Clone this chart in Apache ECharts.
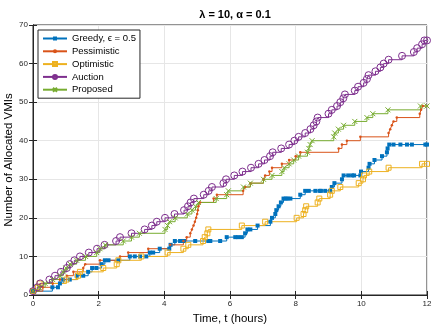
<!DOCTYPE html>
<html><head><meta charset="utf-8">
<script src="https://cdn.jsdelivr.net/npm/echarts@6/dist/echarts.min.js"></script>
<style>html,body{margin:0;padding:0;background:#fff}#c{width:443px;height:332px}</style>
</head><body><div id="c"></div>
<script>
var xTicks = [0, 2, 4, 6, 8, 10, 12];
var yTicks = [0, 10, 20, 30, 40, 50, 60, 70];
var seriesNames = ['Greedy, \u03f5 = 0.5', 'Pessimistic', 'Optimistic', 'Auction', 'Proposed'];

var greedyT = [0,0.59,0.76,0.82,0.92,1.12,1.33,1.53,1.68,1.8,1.93,2.09,2.19,2.3,2.6,2.95,3.1,3.26,3.45,3.56,3.66,3.86,4.15,4.19,4.32,4.48,4.6,4.94,5.34,5.4,5.7,5.9,6.16,6.25,6.36,6.46,6.53,6.62,6.84,7.23,7.28,7.38,7.41,7.48,7.55,7.63,7.7,7.75,7.84,8.14,8.29,8.4,8.6,8.73,8.77,8.9,9.05,9.1,9.18,9.41,9.46,9.6,9.72,9.78,9.97,9.99,10.22,10.25,10.4,10.63,10.78,10.8,10.85,10.98,11.19,11.39,11.54,11.95,12];
var greedyV = [1,2,2,3,4,4,5,5,6,7,7,8,9,9,9,10,10,10,10,11,11,12,12,13,14,14,14,14,14,14,14,15,15,15,15,16,17,17,18,19,20,21,22,23,24,25,25,25,25,26,27,27,27,27,27,27,27,28,29,30,31,31,31,31,31,32,33,34,35,36,37,38,39,39,39,39,39,39,39];

var pessT = [0,0.3,0.6,0.82,1.03,1.23,1.53,1.59,2.04,2.65,2.9,3.51,4.18,4.58,4.68,4.79,4.84,4.89,4.93,4.97,5.0,5.02,5.04,5.09,5.5,5.6,6.4,6.46,6.62,7.02,7.07,7.2,7.28,7.58,7.8,8.0,8.14,9.31,9.41,9.56,9.97,10.83,10.88,10.93,10.98,11.08,11.78,11.82,11.87,12];
var pessV = [1,2,3,4,5,6,7,8,9,10,11,12,13,14,15,16,17,18,19,20,21,22,23,24,25,26,27,28,29,30,31,32,33,34,35,36,37,38,39,40,41,42,43,44,45,46,47,48,49,49];

var optT = [0,0.15,0.2,1.02,1.37,1.43,2.14,2.55,2.6,3.3,4.1,4.58,4.73,5.18,5.23,5.31,5.34,6.36,7.07,8.03,8.24,8.29,8.32,8.67,8.72,9.05,9.1,9.36,9.92,10.05,10.08,10.24,10.83,11.85,12];
var optV = [1,2,3,4,5,6,7,8,9,10,11,12,13,14,15,16,17,18,19,20,21,22,23,24,25,26,27,28,29,30,31,32,33,34,34];

var aucT = [0,0.13,0.22,0.5,0.67,0.85,1.03,1.12,1.26,1.43,1.7,1.95,2.18,2.53,2.65,3.0,3.4,3.62,3.77,4.02,4.31,4.6,4.72,4.8,4.9,5.2,5.35,5.45,5.8,5.88,6.13,6.38,6.64,6.87,7.05,7.22,7.3,7.56,7.8,7.96,8.09,8.29,8.45,8.55,8.63,8.67,9.0,9.1,9.26,9.36,9.45,9.5,9.8,9.9,10.07,10.17,10.22,10.43,10.58,10.68,10.83,11.24,11.6,11.7,11.85,11.92,12];
var aucV = [1,2,3,4,5,6,7,8,9,10,11,12,13,14,15,16,17,18,19,20,21,22,23,24,25,26,27,28,29,30,31,32,33,34,35,36,37,38,39,40,41,42,43,44,45,46,47,48,49,50,51,52,53,54,55,56,57,58,59,60,61,62,63,64,65,66,66];

var propT = [0,0.19,0.37,0.6,0.82,0.92,1.0,1.13,1.33,1.6,1.94,2.04,2.2,2.75,3.0,3.24,4.02,4.1,4.16,4.33,4.7,4.84,4.95,5.04,5.58,5.9,5.95,6.41,6.62,7.02,7.28,7.58,7.65,7.8,7.94,8.09,8.36,8.4,8.44,8.5,9.16,9.19,9.3,9.46,9.8,10.17,10.35,10.81,11.8,12];
var propV = [1,2,3,4,5,6,7,8,9,10,11,12,13,14,15,16,17,18,19,20,21,22,23,24,25,26,27,28,29,30,31,32,33,34,35,36,37,38,39,40,41,42,43,44,45,46,47,48,49,49];

function zip(t, v) { return t.map(function (x, i) { return [x, v[i]]; }); }
var colors = ['#0072BD', '#D95319', '#EDB120', '#7E2F8E', '#77AC30'];
var FONT = 'Liberation Sans, Arial, Helvetica, sans-serif';
var clear = 'rgba(255,255,255,0)';

function mk(name, data, color, symbol, size, hollow) {
  return {
    name: name, type: 'line', step: 'end', data: data,
    symbol: symbol, symbolSize: size, showAllSymbol: true,
    lineStyle: { color: color, width: 1 },
    itemStyle: hollow ? { color: clear, borderColor: color, borderWidth: 1 } : { color: color },
    emphasis: { disabled: true }, animation: false, z: 3
  };
}

var chart = echarts.init(document.getElementById('c'), null, { renderer: 'canvas' });
var axisCommon = {
  type: 'value', min: 0,
  axisLine: { show: true, lineStyle: { color: '#262626', width: 1 } },
  axisTick: { show: true, inside: true, length: 4, lineStyle: { color: '#262626' } },
  axisLabel: { color: '#262626', fontSize: 8, fontFamily: FONT },
  splitLine: { show: true, lineStyle: { color: '#e6e6e6', width: 1 } }
};
chart.setOption({
  animation: false,
  backgroundColor: '#fff',
  title: {
    text: '\u03bb = 10, \u03b1 = 0.1', left: 230, top: 4, textAlign: 'center',
    textStyle: { fontSize: 11, fontWeight: 'bold', color: '#000', fontFamily: FONT }
  },
  grid: { left: 33, right: 16, top: 25, bottom: 37, containLabel: false, outerBoundsMode: 'none',
          show: true, borderColor: '#262626', borderWidth: 1, backgroundColor: '#fff' },
  legend: {
    orient: 'vertical', left: 38, top: 30,
    data: seriesNames,
    backgroundColor: '#fff', borderColor: '#262626', borderWidth: 1, borderRadius: 0,
    padding: [3, 4, 3, 4], itemGap: 1.8, itemWidth: 24, itemHeight: 5,
    textStyle: { fontSize: 9.5, color: '#000', fontFamily: FONT, lineHeight: 11 }
  },
  xAxis: [
    Object.assign({}, axisCommon, {
      max: 12, interval: 2, position: 'bottom',
      name: 'Time, t (hours)', nameLocation: 'middle', nameGap: 17,
      nameTextStyle: { fontSize: 11.5, color: '#000', fontFamily: FONT },
      axisLabel: Object.assign({}, axisCommon.axisLabel, { margin: 5, formatter: function (v) { return xTicks.indexOf(v) >= 0 ? String(v) : ''; } })
    }),
    Object.assign({}, axisCommon, {
      max: 12, interval: 2, position: 'top', axisLabel: { show: false }, splitLine: { show: false }
    })
  ],
  yAxis: [
    Object.assign({}, axisCommon, {
      max: 70, interval: 10, position: 'left',
      name: 'Number of Allocated VMIs', nameLocation: 'middle', nameGap: 18, nameMoveOverlap: false,
      nameTextStyle: { fontSize: 11.5, color: '#000', fontFamily: FONT },
      axisLabel: Object.assign({}, axisCommon.axisLabel, { margin: 5, formatter: function (v) { return yTicks.indexOf(v) >= 0 ? String(v) : ''; } })
    }),
    Object.assign({}, axisCommon, {
      max: 70, interval: 10, position: 'right', axisLabel: { show: false }, splitLine: { show: false }
    })
  ],
  series: [
    mk(seriesNames[0], zip(greedyT, greedyV), colors[0], 'rect', 4, false),
    mk(seriesNames[1], zip(pessT, pessV), colors[1], 'circle', 2.5, false),
    mk(seriesNames[2], zip(optT, optV), colors[2], 'rect', 5, true),
    mk(seriesNames[3], zip(aucT, aucV), colors[3], 'circle', 7, true),
    mk(seriesNames[4], zip(propT, propV), colors[4], 'path://M0,0L10,10M10,0L0,10', 5, true)
  ]
});
</script></body></html>
